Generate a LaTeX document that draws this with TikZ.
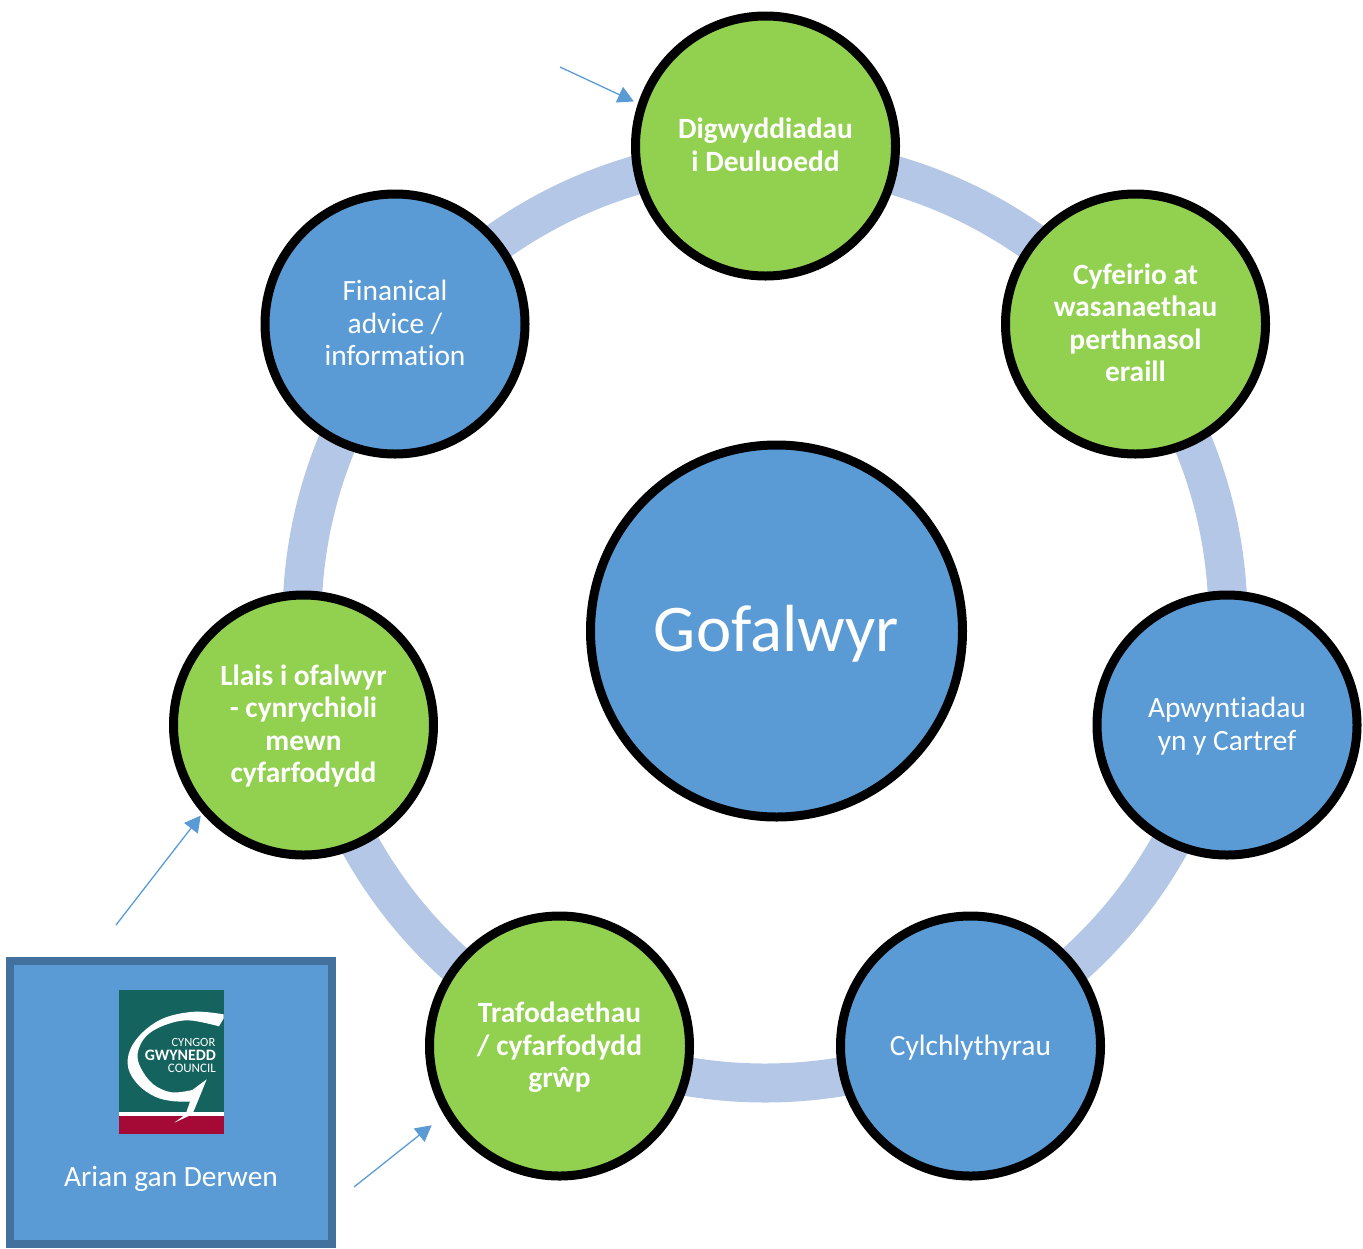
\documentclass[tikz,border=0pt]{standalone}
\usepackage{fontspec}
\setmainfont{Carlito}[Ligatures=CommonOff]
\usetikzlibrary{arrows.meta}
\definecolor{mblue}{HTML}{5B9BD5}
\definecolor{mgreen}{HTML}{92D050}
\definecolor{ringc}{HTML}{B4C7E7}
\definecolor{boxline}{HTML}{41719C}
\definecolor{logog}{HTML}{14635E}
\definecolor{logor}{HTML}{A50A37}
\newcommand\tstr{\rule[-7pt]{0pt}{32pt}}
\tikzset{
  x=1pt,y=-1pt,
  disc/.style={circle,draw=black,line width=9pt,minimum size=260pt,inner sep=0pt,outer sep=0pt,align=center,text=white,font=\fontsize{29.4}{32.2}\selectfont},
  bluedisc/.style={disc,fill=mblue},
  greendisc/.style={disc,fill=mgreen,font=\fontsize{29.4}{32.2}\selectfont\bfseries},
  pointer/.style={draw=mblue,line width=1.3pt,-{Triangle[length=16pt,width=17pt,fill=mblue]}},
}
\begin{document}
\begin{tikzpicture}
\useasboundingbox (0,0) rectangle (1363,1248);
\draw[ringc,line width=39pt] (765,620) circle[radius=463];
\node[bluedisc] (fin) at (395,324) {\tstr Finanical\\advice /\\information\tstr};
\node[greendisc] (dig) at (765.5,146) {\tstr Digwyddiadau\\i Deuluoedd\tstr};
\node[greendisc] (cyf) at (1135.5,324) {\tstr Cyfeirio at\\wasanaethau\\perthnasol\\eraill\tstr};
\node[bluedisc] (apw) at (1227,725) {\tstr Apwyntiadau\\yn y Cartref\tstr};
\node[bluedisc] (cyl) at (970.5,1046) {\tstr Cylchlythyrau};
\node[greendisc] (tra) at (559.5,1046) {\tstr Trafodaethau\\/ cyfarfodydd\\grŵp\tstr};
\node[greendisc] (lla) at (303.5,725) {\tstr Llais i ofalwyr\\- cynrychioli\\mewn\\cyfarfodydd\tstr};
\node[disc,fill=mblue,minimum size=372pt,font=\fontsize{66.7}{70}\selectfont] (gof) at (776.5,631) {\rule[-20pt]{0pt}{80pt}Gofalwyr};
% funding box
\node[draw=boxline,fill=mblue,line width=8pt,minimum width=322pt,minimum height=283pt,inner sep=0pt,outer sep=0pt] (box) at (171,1102.5) {};
\node[text=white,font=\fontsize{29.4}{32}\selectfont,inner sep=0pt] (arian) at (171,1177) {\tstr Arian gan Derwen};
% logo
\begin{scope}[shift={(115,985)},x=0.3333pt,y=-0.3333pt]
\fill[logog] (12,15) rectangle (326,380);
\fill[white] (12,380) rectangle (326,392);
\fill[logor] (12,392) rectangle (326,447);
\fill[white] plot[smooth,tension=0.6] coordinates {(326,88) (240,80) (150,98) (85,140) (45,195) (40,250) (70,300) (120,335) (170,348) (225,350)}
  -- (212,388) -- (178,413) -- plot[smooth,tension=0.6] coordinates {(232,388) (252,340) (275,283)}
  -- plot[smooth,tension=0.6] coordinates {(232,315) (170,322) (115,298) (78,250) (68,205) (92,155) (145,122) (220,106) (312,124)} -- (326,100) -- cycle;
\end{scope}
\node[text=white,font=\fontsize{12.5}{14}\selectfont,anchor=east,inner sep=0pt] (l1) at (215.5,1042) {CYNGOR};
\node[text=white,font=\fontsize{15.9}{16}\selectfont\bfseries,anchor=east,inner sep=0pt] (l2) at (216,1055) {GWYNEDD};
\node[text=white,font=\fontsize{13}{14}\selectfont,anchor=east,inner sep=0pt] (l3) at (216,1068) {COUNCIL};
% pointers
\coordinate (p1) at (560,67);
\coordinate (p2) at (116,925);
\coordinate (p3) at (354,1187);
\draw[pointer] (p1) -- ([shift={(161.3:139pt)}]dig.center);
\draw[pointer] (p2) -- ([shift={(221.4:137pt)}]lla.center);
\draw[pointer] (p3) -- ([shift={(211.8:150.4pt)}]tra.center);
\end{tikzpicture}
\end{document}
